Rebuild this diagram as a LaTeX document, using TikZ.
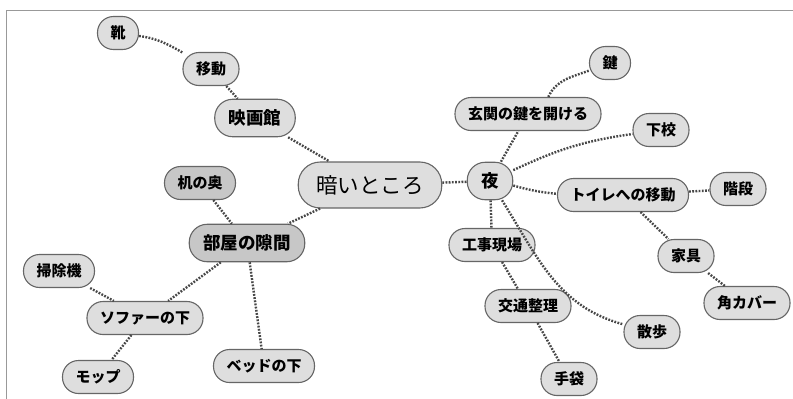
\documentclass[tikz,border=0pt]{standalone}
\usepackage{fontspec}
\setmainfont{Noto Sans CJK JP}
\usetikzlibrary{positioning}

\begin{document}
\begin{tikzpicture}
[
x=1pt,y=1pt,
bubble/.style={draw=black!60,fill=black!13,line width=1.1pt,rounded corners=16pt,
            minimum height=33pt,inner xsep=13pt,inner ysep=0pt,
            font=\fontsize{15}{15}\selectfont\bfseries},
darkbubble/.style={bubble,fill=black!22},
hub/.style={bubble,minimum height=37.5pt,rounded corners=18pt,inner xsep=14pt,
            font=\fontsize{17.5}{17.5}\selectfont\bfseries},
darkhub/.style={hub,fill=black!22},
rootbubble/.style={bubble,minimum height=46pt,rounded corners=22pt,inner xsep=18pt,
            font=\fontsize{21.5}{21.5}\selectfont},
link/.style={draw=black!72,line width=2.4pt,dash pattern=on 1.8pt off 1.4pt},
frame/.style={draw=black!40,line width=1.3pt},
]
\useasboundingbox (0,0) rectangle (793,-399);

%Frame of the page
\draw[frame] (6.5,-399) -- (6.5,-10.5) -- (793,-10.5);

%Place the nodes
\node[rootbubble] (dark) at (370,-185) {暗いところ};
\node[hub] (night) at (490,-181) {夜};
\node[hub] (cinema) at (255,-118) {映画館};
\node[bubble] (move) at (211,-69) {移動};
\node[bubble] (shoes) at (118,-33) {靴};
\node[darkhub] (gap) at (247,-243) {部屋の隙間};
\node[darkbubble] (desk) at (200,-183) {机の奥};
\node[bubble] (cleaner) at (59,-271) {掃除機};
\node[bubble] (sofa) at (145,-318) {ソファーの下};
\node[bubble] (mop) at (98,-377) {モップ};
\node[bubble] (bed) at (264,-366) {ベッドの下};
\node[bubble] (door) at (528,-114) {玄関の鍵を開ける};
\node[bubble] (key) at (610,-63) {鍵};
\node[bubble] (school) at (661,-130) {下校};
\node[bubble] (toilet) at (623,-195) {トイレへの移動};
\node[bubble] (stairs) at (738,-189) {階段};
\node[bubble] (furn) at (686,-256) {家具};
\node[bubble] (corner) at (747,-303) {角カバー};
\node[bubble] (site) at (492,-245) {工事現場};
\node[bubble] (traffic) at (528,-306) {交通整理};
\node[bubble] (gloves) at (569,-379) {手袋};
\node[bubble] (walk) at (652,-332) {散歩};

%Draw the connections
\path[link] (shoes) to[out=-8,in=150] (move);
\path[link] (move) to (cinema);
\path[link] (cinema) to (dark);
\path[link] (dark) to (gap);
\path[link] (desk) to (gap);
\path[link] (gap) to (sofa);
\path[link] (cleaner) to (sofa);
\path[link] (sofa) to (mop);
\path[link] (gap) to (bed);
\path[link] (dark) to (night);
\path[link] (night) to (door);
\path[link] (door.40) to[out=65,in=200] (key);
\path[link] (night) to[out=25,in=188] (school);
\path[link] (night) to[bend right=5] (toilet);
\path[link] (toilet) to (stairs);
\path[link] (toilet) to (furn);
\path[link] (furn) to (corner);
\path[link] (night) to (site);
\path[link] (site) to (traffic);
\path[link] (traffic) to (gloves);
\path[link] (night) to[out=-58,in=165] (walk);
\end{tikzpicture}
\end{document}
